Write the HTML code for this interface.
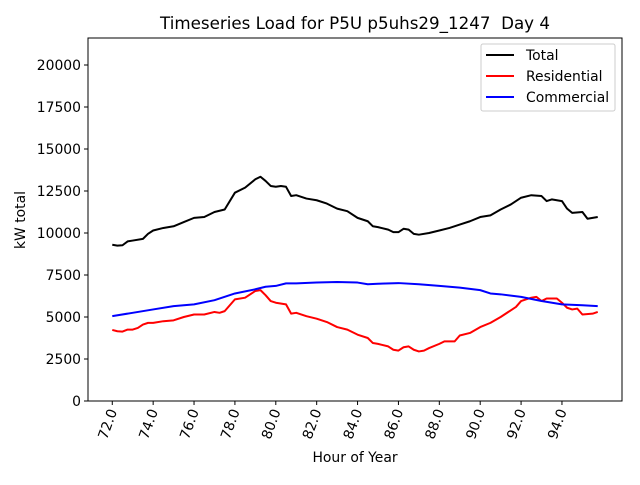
<!DOCTYPE html>
<html><head><meta charset="utf-8"><style>
body{margin:0;background:#fff}
svg text{font-family:"DejaVu Sans","Liberation Sans",sans-serif;fill:#000}
</style></head><body>
<svg id="chart" width="640" height="480" viewBox="0 0 640 480"></svg>
<script>
const totalHours=[72,72.25,72.5,72.75,73,73.5,73.75,74,74.5,75,75.5,76,76.5,77,77.5,78,78.5,79,79.25,79.5,79.75,80,80.25,80.5,80.75,81,81.5,82,82.5,83,83.5,84,84.5,84.75,85,85.5,85.75,86,86.25,86.5,86.75,87,87.5,88,88.5,89,89.5,90,90.5,91,91.5,92,92.5,93,93.25,93.5,94,94.25,94.5,95,95.25,95.75];
const totalValues=[9300,9250,9270,9500,9550,9650,9950,10150,10300,10400,10650,10900,10950,11250,11400,12400,12700,13200,13350,13100,12800,12750,12800,12750,12200,12250,12050,11950,11750,11450,11300,10900,10700,10400,10350,10200,10050,10050,10250,10200,9950,9900,10000,10150,10300,10500,10700,10950,11050,11400,11700,12100,12250,12200,11900,12000,11900,11450,11200,11250,10850,10950];
const resHours=[72,72.25,72.5,72.75,73,73.25,73.5,73.75,74,74.5,75,75.5,76,76.5,77,77.25,77.5,77.75,78,78.5,79,79.25,79.5,79.75,80,80.5,80.75,81,81.5,82,82.5,83,83.5,84,84.5,84.75,85,85.5,85.75,86,86.25,86.5,86.75,87,87.25,87.5,88,88.25,88.75,89,89.5,90,90.5,91,91.5,91.75,92,92.25,92.5,92.75,93,93.25,93.75,94,94.25,94.5,94.75,95,95.5,95.75];
const resValues=[4230,4150,4130,4250,4250,4350,4550,4650,4650,4750,4800,5000,5150,5150,5300,5250,5350,5700,6050,6150,6550,6600,6300,5950,5850,5750,5200,5250,5050,4900,4700,4400,4250,3950,3750,3450,3400,3250,3050,3000,3200,3250,3050,2950,3000,3150,3400,3550,3550,3900,4050,4400,4650,5000,5400,5600,5950,6050,6150,6200,5950,6100,6100,5850,5550,5450,5500,5150,5200,5300];
const comHours=[72,73,74,75,76,77,78,79,79.5,80,80.5,81,82,83,84,84.5,85,86,87,88,89,90,90.5,91,92,93,94,95,95.75];
const comValues=[5050,5250,5450,5650,5750,6000,6400,6650,6800,6850,7000,7000,7050,7080,7050,6950,6980,7020,6950,6850,6750,6600,6400,6350,6200,5950,5750,5700,5650];
const xTicks=[72,74,76,78,80,82,84,86,88,90,92,94];
const yTicks=[0,2500,5000,7500,10000,12500,15000,17500,20000];

const NS="http://www.w3.org/2000/svg";
const svg=document.getElementById('chart');
const L=88,R=622,T=38,B=401;
const xMin=70.8125,xMax=96.9375,yMin=0,yMax=21607;
const X=v=>L+(v-xMin)/(xMax-xMin)*(R-L);
const Y=v=>B-(v-yMin)/(yMax-yMin)*(B-T);
function mk(tag,attrs,parent){const e=document.createElementNS(NS,tag);for(const k in attrs)e.setAttribute(k,attrs[k]);(parent||svg).appendChild(e);return e;}

const frame=mk('rect',{x:L,y:T,width:R-L,height:B-T,fill:'none',stroke:'#000','stroke-width':1});



xTicks.forEach(t=>{
  const x=X(t);
  const tk=mk('line',{x1:x,x2:x,y1:B,y2:B+4,stroke:'#000'});
  
  
  const tx=mk('text',{x:x+5,y:B+10,'font-size':13.9,'text-anchor':'end',transform:`rotate(-70 ${x+5} ${B+10})`});
  tx.textContent=t.toFixed(1);
  
  
});
yTicks.forEach(t=>{
  const y=Y(t);
  const tk=mk('line',{x1:L-4,x2:L,y1:y,y2:y,stroke:'#000'});
  
  
  const tx=mk('text',{x:L-7,y:y+5,'font-size':13.9,'text-anchor':'end'});
  tx.textContent=t;
  
  
});

function line(hours,vals,color,name){
  const p=mk('polyline',{points:hours.map((h,i)=>X(h)+','+Y(vals[i])).join(' '),fill:'none',stroke:color,'stroke-width':2,'stroke-linejoin':'round'});
  
  
}
line(totalHours,totalValues,'#000','total-line');
line(resHours,resValues,'#f00','residential-line');
line(comHours,comValues,'#00f','commercial-line');

const title=mk('text',{x:355,y:29,'font-size':16.7,'text-anchor':'middle',style:'white-space:pre'});
title.textContent='Timeseries Load for P5U p5uhs29_1247  Day 4';


const xl=mk('text',{x:355,y:462,'font-size':13.9,'text-anchor':'middle'});
xl.textContent='Hour of Year';


const yl=mk('text',{x:25,y:220,'font-size':13.9,'text-anchor':'middle',transform:'rotate(-90 25 220)'});
yl.textContent='kW total';



const lg=mk('g',{});


mk('rect',{x:481,y:44,width:134,height:67,rx:2,fill:'#fff','fill-opacity':0.8,stroke:'#ccc'},lg);
[['Total','#000',55],['Residential','#f00',76],['Commercial','#00f',97]].forEach(([n,c,y])=>{
  const g=mk('g',{},lg);
  
  
  mk('line',{x1:486,x2:514,y1:y,y2:y,stroke:c,'stroke-width':2},g);
  const t=mk('text',{x:526,y:y+5,'font-size':13.9},g);
  t.textContent=n;
});
</script>
</body></html>
